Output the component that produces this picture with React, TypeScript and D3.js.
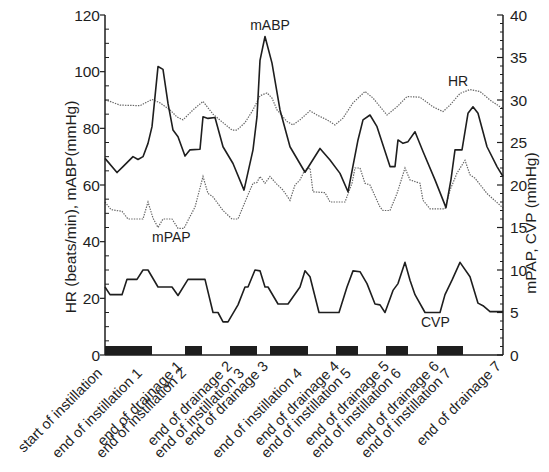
import React from 'react'
import * as d3 from 'd3'

// time axis is in arbitrary sample units, 0 .. 199
// HR and mABP on the left axis, mPAP and CVP on the right axis
const hrSeries: [number, number][] = [
  [0, 90], [2.5, 89.5], [7.5, 88.2], [17.5, 88], [23.5, 90.2], [27.5, 89], [32.5, 86.5],
  [36, 84], [39, 83], [44, 86.5], [49, 89.5], [54, 85], [59, 82], [63.5, 79.4], [66, 79.4],
  [70, 82], [74, 86.5], [77.5, 91.5], [81, 92.5], [83.5, 90.7], [86, 86.5], [91, 82.4],
  [94, 81.2], [97.5, 83], [102.5, 86.2], [106, 84.7], [111, 83], [115, 81.2], [119, 83.6],
  [124, 89], [130, 93], [134, 90.7], [141, 84.7], [146, 87.6], [151, 91.2], [157.5, 91],
  [164, 87.6], [169, 85.9], [172.5, 88.2], [177.5, 92.3], [182.5, 93.7], [187.5, 93],
  [192.5, 90], [197.5, 87.6], [199, 87]
]

const mabpSeries: [number, number][] = [
  [0, 69.4], [6, 64.4], [9, 66.5], [14, 70], [16.5, 69], [19, 70], [21.5, 74.7], [23.5, 80.6],
  [26.5, 101.8], [29, 100.8], [31.5, 88.8], [34, 79.4], [36.5, 77], [40, 70.2], [42.5, 72.4],
  [47.5, 72.6], [49, 84.1], [51.5, 83.5], [55, 83.8], [59, 73.5], [64, 67.6], [69.5, 58.2],
  [74, 72.4], [76, 84.1], [77.5, 104], [80, 112.4], [83.5, 103], [87.5, 86.5], [92.5, 73.5],
  [100, 64.5], [107.5, 72.9], [112.5, 68.8], [117.5, 64.1], [121.5, 57.6], [126.5, 75.9],
  [129, 83], [132.5, 84.7], [136, 80.6], [142.5, 66.5], [145, 66.5], [146.5, 75.9], [149, 74.7],
  [151.5, 75.3], [155, 78.8], [159, 71.8], [165, 61.8], [170.5, 52], [173, 62], [175, 72.4],
  [178.5, 72.4], [181.5, 85.3], [184, 87.6], [186.5, 85.3], [191, 73.5], [196, 66.5], [199, 63]
]

const mpapSeries: [number, number][] = [
  [0, 18], [3, 17.1], [8.5, 16.9], [11.5, 16], [19, 16], [21.5, 18], [24, 16.1], [26.5, 15],
  [29, 16], [33.5, 16], [36.5, 14.9], [39.5, 14.9], [42.5, 16.3], [45, 17.4], [49, 21],
  [51.5, 19], [54, 18.6], [59, 17], [63.5, 16], [66.5, 16], [70, 18], [72.5, 19.4], [74, 20.2],
  [76, 20.3], [77.5, 21], [80, 20.2], [82.5, 21], [85.5, 20.2], [89, 19.4], [92.5, 18.2],
  [95, 20], [97.5, 20.6], [100, 21.8], [102.5, 22], [104, 19.2], [110, 19.1], [112.5, 18],
  [120, 18], [123.5, 20.2], [125, 22], [127.5, 22], [130, 20.2], [132.5, 20], [137.5, 17.4],
  [139, 17], [142.5, 17], [146, 19], [150, 22], [152.5, 20.6], [157.5, 20.2], [159, 18.2],
  [162.5, 17.2], [170, 17.2], [172.5, 19.4], [176, 21.4], [180, 22.9], [182.5, 21.2],
  [185, 20.8], [191, 19], [199, 17.3]
]

const cvpSeries: [number, number][] = [
  [0, 8], [2.5, 7.1], [8.5, 7.1], [11, 8.9], [16, 8.9], [19, 10], [21.5, 10], [26.5, 8],
  [33.5, 8], [36.5, 7], [41.5, 8.9], [50, 8.9], [54, 5], [56.5, 5], [59, 3.9], [61.5, 3.9],
  [66.5, 5.9], [70, 8], [71.5, 8], [75, 10], [77.5, 9.9], [80, 8], [81.5, 8], [86.5, 6],
  [91.5, 6], [97.5, 8], [100, 9.9], [102.5, 9.2], [107, 5], [117, 5], [121, 8], [124, 9.9],
  [127.5, 9.8], [131, 8.4], [135, 6], [137.5, 5.9], [140, 5], [144, 7.6], [146.5, 8.4],
  [150, 10.9], [152.5, 8.8], [155, 7.1], [160, 5], [167.5, 5], [170, 7.1], [173.5, 8.8],
  [177.5, 10.9], [182.5, 9.2], [186.5, 6.1], [189, 5.8], [192.5, 5.1], [199, 5.1]
]

// black bars on the time axis: instillation periods
const instillationPeriods: [number, number][] = [
  [0, 23.5], [40, 48.5], [62.5, 76], [82.5, 101.5], [115.5, 126.5], [140.5, 151.5], [166, 179]
]

const eventLabels = [
  'start of instillation',
  'end of instillation 1', 'end of drainage 1',
  'end of instillation 2', 'end of drainage 2',
  'end of instillation 3', 'end of drainage 3',
  'end of instillation 4', 'end of drainage 4',
  'end of instillation 5', 'end of drainage 5',
  'end of instillation 6', 'end of drainage 6',
  'end of instillation 7', 'end of drainage 7'
]
const eventTimes = [0, 20, 40, 42, 65, 71, 83, 100, 118.5, 124.5, 143.5, 149.5, 168.5, 174.5, 199.5]

const leftTicks = [0, 20, 40, 60, 80, 100, 120]
const rightTicks = [0, 5, 10, 15, 20, 25, 30, 35, 40]

// in-plot series names: [text, time, left-axis value]
const seriesNames: [string, number, number][] = [
  ['mABP', 82.5, 114.7],
  ['HR', 171.5, 95],
  ['mPAP', 23.5, 40],
  ['CVP', 158, 10]
]

const W = 549
const H = 472
const margin = { top: 15, right: 46, bottom: 117, left: 105 }
const font = '"Liberation Sans", Arial, sans-serif'
const ink = '#1e1e1e'

export default function App() {
  const x = d3.scaleLinear().domain([0, 199]).range([margin.left, W - margin.right])
  const yL = d3.scaleLinear().domain([0, 120]).range([H - margin.bottom, margin.top])
  const yR = d3.scaleLinear().domain([0, 40]).range([H - margin.bottom, margin.top])

  const lineL = d3.line<[number, number]>().x(d => x(d[0])).y(d => yL(d[1]))
  const lineR = d3.line<[number, number]>().x(d => x(d[0])).y(d => yR(d[1]))

  const x0 = x.range()[0]
  const x1 = x.range()[1]
  const y0 = yL.range()[0]
  const yTop = yL.range()[1]

  const leftMinor = d3.range(0, 121, 5).filter(v => v % 20 !== 0)
  const rightMinor = d3.range(0, 41, 1).filter(v => v % 5 !== 0)

  return (
    <svg width={W} height={H} style={{ position: 'absolute', left: 0, top: 0, background: '#fff' }}
      fontFamily={font}>
      {/* instillation bars */}
      {instillationPeriods.map(([a, b], i) => (
        <rect key={i} x={x(a)} y={y0 - 9} width={x(b) - x(a)} height={9} fill={ink} />
      ))}

      {/* series */}
      <path d={lineL(hrSeries) || ''} fill="none" stroke="#666" strokeWidth={1.2} strokeDasharray="1.4 1.2" />
      <path d={lineR(mpapSeries) || ''} fill="none" stroke="#666" strokeWidth={1.2} strokeDasharray="1.4 1.2" />
      <path d={lineL(mabpSeries) || ''} fill="none" stroke={ink} strokeWidth={1.6} strokeLinejoin="round" />
      <path d={lineR(cvpSeries) || ''} fill="none" stroke={ink} strokeWidth={1.6} strokeLinejoin="round" />

      {/* axes lines */}
      <line x1={x0} x2={x0} y1={yTop} y2={y0} stroke={ink} strokeWidth={1.5} />
      <line x1={x1} x2={x1} y1={yTop} y2={y0} stroke={ink} strokeWidth={1.5} />
      <line x1={x0} x2={x1} y1={y0} y2={y0} stroke={ink} strokeWidth={1.5} />

      {/* left ticks */}
      {leftTicks.map(v => (
        <g key={v}>
          <line x1={x0 - 5} x2={x0} y1={yL(v)} y2={yL(v)} stroke={ink} strokeWidth={1.2} />
          <text x={x0 - 5} y={yL(v)} dy="0.36em" textAnchor="end" fontSize={15.5} fill={ink}>{v}</text>
        </g>
      ))}
      {leftMinor.map(v => (
        <line key={v} x1={x0} x2={x0 + 4} y1={yL(v)} y2={yL(v)} stroke={ink} strokeWidth={1} />
      ))}

      {/* right ticks */}
      {rightTicks.map(v => (
        <g key={v}>
          <line x1={x1 - 6} x2={x1} y1={yR(v)} y2={yR(v)} stroke={ink} strokeWidth={1.2} />
          <text x={x1 + 7} y={yR(v)} dy="0.36em" textAnchor="start" fontSize={15.5} fill={ink}>{v}</text>
        </g>
      ))}
      {rightMinor.map(v => (
        <line key={v} x1={x1 - 3} x2={x1} y1={yR(v)} y2={yR(v)} stroke={ink} strokeWidth={1} />
      ))}

      {/* axis titles */}
      <text transform={`translate(76,207) rotate(-90)`} textAnchor="middle" fontSize={15.5} fill={ink}>
        HR (beats/min), mABP(mmHg)
      </text>
      <text transform={`translate(536,223) rotate(-90)`} textAnchor="middle" fontSize={15.5} fill={ink}>
        mPAP, CVP (mmHg)
      </text>

      {/* event labels under the time axis */}
      {eventLabels.map((label, i) => {
        const drop = label.includes('drainage') ? 12 : 19
        return (
          <text key={label} transform={`translate(${x(eventTimes[i]) - 2},${y0 + drop}) rotate(-45)`}
            textAnchor="end" fontSize={14.5} fill={ink}>{label}</text>
        )
      })}

      {/* series names */}
      {seriesNames.map(([name, t, v]) => (
        <text key={name} x={x(t)} y={yL(v)} textAnchor={name === 'mABP' ? 'middle' : 'start'}
          fontSize={14} fill={ink}>{name}</text>
      ))}
    </svg>
  )
}
